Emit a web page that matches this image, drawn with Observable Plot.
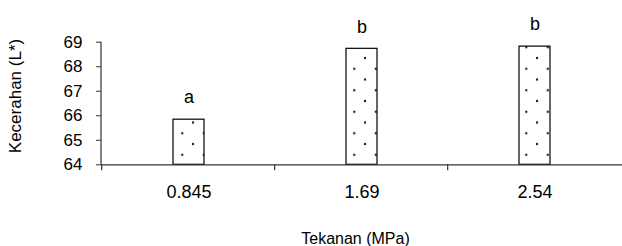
<!DOCTYPE html>
<html><head><meta charset="utf-8">
<script src="https://cdn.jsdelivr.net/npm/d3@7"></script>
<script src="https://cdn.jsdelivr.net/npm/@observablehq/plot@0.6"></script>
<style>body{margin:0;background:#fff}</style>
</head><body><div id="chart"></div>
<script>
const pressures = ["0.845", "1.69", "2.54"];
const lightness = [65.84, 68.73, 68.82];
const letters = ["a", "b", "b"];
const yTicks = [64, 65, 66, 67, 68, 69];
const xTitle = "Tekanan (MPa)";
const yTitle = "Kecerahan (L*)";
const data = pressures.map((p, i) => ({p, v: lightness[i], g: letters[i]}));

function patternDefs() {
  const defs = d3.create("svg:defs");
  const pat = defs.append("pattern").attr("id", "dots").attr("patternUnits", "userSpaceOnUse")
    .attr("x", 180.3).attr("y", 131.3).attr("width", 21.5).attr("height", 21.5);
  pat.append("rect").attr("width", 21.5).attr("height", 21.5).attr("fill", "#fff");
  pat.append("circle").attr("cx", 2).attr("cy", 2).attr("r", 1.15).attr("fill", "#1a1a1a");
  pat.append("circle").attr("cx", 12.75).attr("cy", 12.75).attr("r", 1.15).attr("fill", "#1a1a1a");
  return defs.node();
}

function bandTicks(index, scales, values, dims) {
  const x = scales.x, y = scales.y;
  const bw = typeof x.bandwidth === "function" ? x.bandwidth() : (x.bandwidth || 0);
  const step = (dims.width - dims.marginLeft - dims.marginRight) / pressures.length;
  const y0 = y(yTicks[0]);
  const g = d3.create("svg:g").attr("stroke", "#333").attr("stroke-width", 1.2).attr("fill", "none");
  g.append("line").attr("x1", dims.marginLeft).attr("x2", dims.marginLeft)
    .attr("y1", y(yTicks[yTicks.length - 1])).attr("y2", y0);
  pressures.forEach(p => {
    const xt = x(p) + bw / 2 - step / 2;
    g.append("line").attr("x1", xt).attr("x2", xt).attr("y1", y0).attr("y2", y0 + 6);
  });
  return g.node();
}

function titles(index, scales, values, dims) {
  const g = d3.create("svg:g").attr("fill", "#000")
    .attr("font-family", "'Liberation Sans', Arial, sans-serif");
  const midY = (dims.marginTop + dims.height - dims.marginBottom) / 2;
  const midX = (dims.marginLeft + dims.width - dims.marginRight) / 2;
  g.append("text").attr("transform", `translate(15,${midY - 7}) rotate(-90)`)
    .attr("text-anchor", "middle").attr("dy", "0.35em").attr("font-size", 17).text(yTitle);
  g.append("text").attr("transform", `translate(${midX - 6},${dims.height - 8})`)
    .attr("text-anchor", "middle").attr("dy", "0.35em").attr("font-size", 16).text(xTitle);
  return g.node();
}

const chart = Plot.plot({
  width: 622, height: 246,
  marginLeft: 101, marginRight: 0, marginTop: 41.7, marginBottom: 81.7,
  style: {fontFamily: "'Liberation Sans', Arial, sans-serif", color: "#000", background: "#fff"},
  x: {domain: pressures, paddingInner: 0.818, paddingOuter: 0.409, axis: null},
  y: {domain: [64, 69], axis: null},
  marks: [
    patternDefs,
    Plot.barY(data, {x: "p", y1: 64, y2: "v", fill: "url(#dots)", stroke: "#000", strokeWidth: 1.2}),
    Plot.ruleY([64], {stroke: "#333", strokeWidth: 1.2}),
    bandTicks,
    Plot.axisY({ticks: yTicks, tickFormat: d3.format("d"), tickSize: 5, tickPadding: 14, fontSize: 17, stroke: "#333", label: null}),
    Plot.axisX({tickSize: 0, tickPadding: 20, fontSize: 18, label: null}),
    Plot.text(data, {x: "p", y: "v", text: "g", dy: -22, fontSize: 18}),
    titles
  ]
});
document.getElementById("chart").appendChild(chart);
</script>
</body></html>
